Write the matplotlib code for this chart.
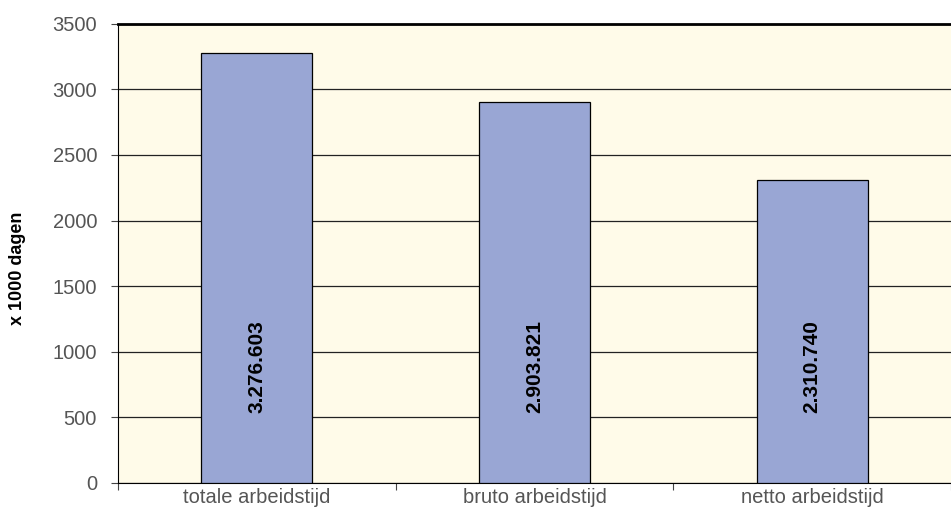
import matplotlib
matplotlib.use("Agg")
import matplotlib.pyplot as plt

# data
categories = ["totale arbeidstijd", "bruto arbeidstijd", "netto arbeidstijd"]
values = [3276.603, 2903.821, 2310.740]
value_labels = ["3.276.603", "2.903.821", "2.310.740"]
y_ticks = [0, 500, 1000, 1500, 2000, 2500, 3000, 3500]

plt.rcParams['font.family'] = ['Liberation Sans', 'DejaVu Sans']

fig = plt.figure(figsize=(9.51, 5.17), dpi=100)
ax = fig.add_axes([0.124, 0.066, 0.876, 0.888])
ax.set_facecolor("#fffbe9")

x = list(range(len(categories)))
ax.bar(x, values, width=0.40, color="#99a6d4", edgecolor="black", linewidth=0.9, zorder=3)

# waarden in de balken
for xi, lab in zip(x, value_labels):
    ax.text(xi, 890, lab, rotation=90, ha="center", va="center",
            fontsize=15, fontweight="bold", color="black", zorder=4)

ax.set_xlim(-0.5, len(categories) - 0.5)
ax.set_ylim(0, 3500)
ax.set_yticks(y_ticks)
ax.set_yticklabels([str(t) for t in y_ticks], fontsize=14.5, color="#555555")
ax.yaxis.grid(True, color="#222222", linewidth=0.9, zorder=1)
ax.set_axisbelow(True)

# x ticks op de grenzen tussen categorieen
ax.set_xticks([i - 0.5 for i in range(len(categories) + 1)])
ax.set_xticklabels([])
ax.set_xticks(x, minor=True)
ax.set_xticklabels(categories, minor=True, fontsize=14.5, color="#555555")
ax.tick_params(axis="x", which="minor", length=0, pad=4)
ax.tick_params(axis="x", which="major", length=5, color="#444444", direction="out")
ax.tick_params(axis="y", length=5, color="#444444", direction="out", pad=10)

ax.spines["top"].set_linewidth(2)
ax.spines["top"].set_color("black")
ax.spines["right"].set_visible(False)
ax.spines["left"].set_color("black")
ax.spines["bottom"].set_color("black")

fig.text(18 / 951, 1 - 268 / 517, "x 1000 dagen", rotation=90, ha="center", va="center",
         fontsize=13, fontweight="bold", color="black")

fig.savefig("out.png", dpi=100)
